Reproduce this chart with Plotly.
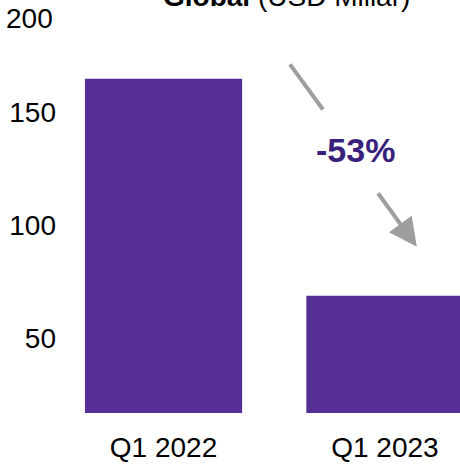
import plotly.graph_objects as go

categories = ["Q1 2022", "Q1 2023"]
values = [165.0, 68.7]
ytick_vals = [50, 100, 150]
ytick_top = 200
change_label = "-53%"
title_text = "<b>Global</b> (USD Miliar)"

BAR = "#552F96"
TEXT_PURPLE = "#3B1F7C"
GRAY = "#9E9E9E"
FONT = "Liberation Sans, Arial, Helvetica, sans-serif"

fig = go.Figure(go.Bar(x=categories, y=values, marker=dict(color=BAR, line=dict(width=0)), width=0.71))

fig.update_layout(
    width=460, height=464,
    margin=dict(l=65, r=0, t=0, b=51),
    plot_bgcolor="white", paper_bgcolor="white",
    showlegend=False,
    font=dict(family=FONT, size=28, color="black"),
)
fig.update_xaxes(range=[-0.445, 1.339], showgrid=False, zeroline=False, showline=False,
                 ticks="", ticklabelstandoff=15, tickfont=dict(size=28))
fig.update_yaxes(range=[16.7, 200], tickvals=ytick_vals, ticktext=[str(v) for v in ytick_vals],
                 showgrid=False, zeroline=False, showline=False, ticks="",
                 ticklabelstandoff=8, tickfont=dict(size=28))

# top tick label, shifted down to stay visible
fig.add_annotation(x=0, xref="paper", xanchor="right", xshift=-10, y=ytick_top, yref="y",
                   yanchor="middle", yshift=-18, text=str(ytick_top), showarrow=False,
                   font=dict(size=28, color="black"))

# title (cut off at the top)
fig.add_annotation(x=0.5, xref="paper", xanchor="center", xshift=24, y=1, yref="paper",
                   yanchor="bottom", yshift=-14, text=title_text, showarrow=False,
                   font=dict(size=28, color="black"))

# change label
fig.add_annotation(x=0.869, y=133.6, xref="x", yref="y", text="<b>" + change_label + "</b>",
                   showarrow=False, font=dict(size=34, color=TEXT_PURPLE))

# upper line segment
fig.add_shape(type="line", xref="x", yref="y", x0=0.571, y0=171.4, x1=0.720, y1=151.4,
              line=dict(color=GRAY, width=4))
# lower arrow
fig.add_annotation(x=1.144, y=90.5, xref="x", yref="y", ax=0.964, ay=114.9, axref="x", ayref="y",
                   text="", showarrow=True, arrowhead=2, arrowsize=1.4, arrowwidth=4,
                   arrowcolor=GRAY)

fig.write_html("out.html", config={"displayModeBar": False},
               post_script="document.body.style.margin='0';")
